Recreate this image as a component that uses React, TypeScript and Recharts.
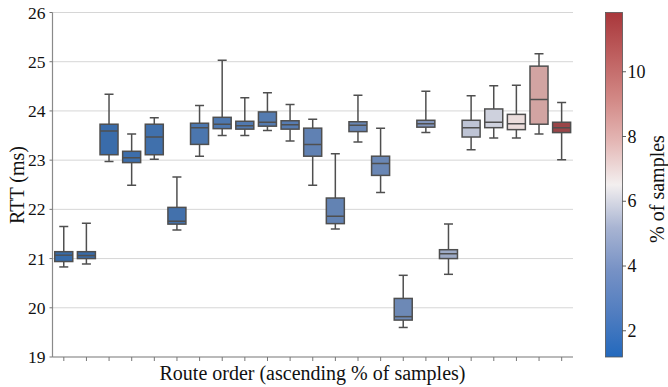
import { ComposedChart, Bar, XAxis, YAxis, CartesianGrid } from 'recharts'

// routes sorted by ascending share of samples
const routes = ['r01', 'r02', 'r03', 'r04', 'r05', 'r06', 'r07', 'r08', 'r09', 'r10', 'r11', 'r12',
  'r13', 'r14', 'r15', 'r16', 'r17', 'r18', 'r19', 'r20', 'r21', 'r22', 'r23']
const whiskerLow = [20.83, 20.89, 22.97, 22.49, 23.02, 21.58, 23.08, 23.5, 23.5, 23.6, 23.39, 22.49,
  21.6, 23.37, 22.34, 19.6, 23.56, 20.68, 23.21, 23.45, 23.45, 23.53, 23.01]
const q1 = [20.94, 21.0, 23.11, 22.95, 23.11, 21.7, 23.32, 23.64, 23.63, 23.69, 23.63, 23.08,
  21.71, 23.58, 22.69, 19.75, 23.67, 21.0, 23.47, 23.66, 23.62, 23.73, 23.56]
const median = [21.07, 21.06, 23.59, 23.05, 23.47, 21.76, 23.66, 23.73, 23.7, 23.77, 23.72, 23.32,
  21.86, 23.71, 22.93, 19.82, 23.74, 21.1, 23.66, 23.77, 23.74, 24.23, 23.66]
const q3 = [21.14, 21.14, 23.73, 23.18, 23.73, 22.04, 23.75, 23.87, 23.79, 23.98, 23.8, 23.65,
  22.23, 23.78, 23.08, 20.19, 23.81, 21.18, 23.81, 24.04, 23.93, 24.91, 23.77]
const whiskerHigh = [21.65, 21.72, 24.34, 23.53, 23.86, 22.66, 24.11, 25.03, 24.27, 24.37, 24.13, 23.83,
  23.13, 24.32, 23.65, 20.66, 24.4, 21.7, 24.31, 24.51, 24.52, 25.16, 24.17]
const pctSamples = [1.19, 1.22, 1.3, 1.4, 1.5, 1.6, 1.9, 2.0, 2.1, 2.2, 2.3, 2.6,
  2.7, 2.9, 3.0, 3.1, 3.9, 4.7, 5.5, 5.8, 7.0, 8.6, 11.83]
const rttTicks = [19, 20, 21, 22, 23, 24, 25, 26]
const pctTicks = [2, 4, 6, 8, 10]
const pctMin = 1.19
const pctMax = 11.83

// approx. seaborn "vlag"
const vlagStops: [number, number[]][] = [
  [0, [35, 105, 189]],
  [0.125, [80, 125, 192]],
  [0.25, [118, 145, 197]],
  [0.375, [168, 180, 210]],
  [0.5, [243, 239, 239]],
  [0.625, [228, 183, 181]],
  [0.75, [210, 136, 133]],
  [0.875, [190, 95, 95]],
  [1, [169, 55, 59]],
]

function vlag(t: number) {
  const x = Math.max(0, Math.min(1, t))
  for (let i = 1; i < vlagStops.length; i++) {
    const [t1, c1] = vlagStops[i]
    const [t0, c0] = vlagStops[i - 1]
    if (x <= t1) {
      const f = (x - t0) / (t1 - t0)
      return c0.map((v, k) => v + (c1[k] - v) * f)
    }
  }
  return vlagStops[vlagStops.length - 1][1]
}

function desaturate(rgb: number[], s: number) {
  const [r, g, b] = rgb.map(v => v / 255)
  const mx = Math.max(r, g, b)
  const mn = Math.min(r, g, b)
  const l = (mx + mn) / 2
  const out = [r, g, b].map(v => l + (v - l) * s)
  return `rgb(${out.map(v => Math.round(v * 255)).join(',')})`
}

const toCss = (c: number[]) => `rgb(${c.map(Math.round).join(',')})`

const data = routes.map((route, i) => ({
  route,
  range: [whiskerLow[i], whiskerHigh[i]],
  q1: q1[i],
  median: median[i],
  q3: q3[i],
  color: desaturate(vlag((pctSamples[i] - pctMin) / (pctMax - pctMin)), 0.75),
}))

const EDGE = '#4f4f4f'

function BoxShape(props: any) {
  const { x, y, width, height, payload } = props
  const top = Math.min(y, y + height)
  const bottom = Math.max(y, y + height)
  const [lo, hi] = payload.range
  const py = (v: number) => bottom - ((v - lo) / (hi - lo)) * (bottom - top)
  const cx = x + width / 2
  const cap = width / 4
  return (
    <g stroke={EDGE} strokeWidth={1.5}>
      <line x1={cx} x2={cx} y1={top} y2={py(payload.q3)} />
      <line x1={cx} x2={cx} y1={py(payload.q1)} y2={bottom} />
      <line x1={cx - cap} x2={cx + cap} y1={top} y2={top} />
      <line x1={cx - cap} x2={cx + cap} y1={bottom} y2={bottom} />
      <rect
        x={x}
        y={py(payload.q3)}
        width={width}
        height={py(payload.q1) - py(payload.q3)}
        fill={payload.color}
      />
      <line x1={x} x2={x + width} y1={py(payload.median)} y2={py(payload.median)} />
    </g>
  )
}

const FONT = "'Liberation Serif', 'Times New Roman', Times, serif"
const textStyle = { fontFamily: FONT }
const CB_X = 605.5
const CB_W = 17
const CB_TOP = 12.5
const CB_BOTTOM = 357
const cbY = (v: number) => CB_BOTTOM - ((v - pctMin) / (pctMax - pctMin)) * (CB_BOTTOM - CB_TOP)

function YTick(props: any) {
  const { x, y, payload } = props
  return (
    <text x={x - 2} y={y} textAnchor="end" dominantBaseline="central" fontSize={17.5} fill="#111" style={textStyle}>
      {payload.value}
    </text>
  )
}

export default function App() {
  return (
    <div style={{ position: 'absolute', left: 0, top: 0, width: 668, height: 387, fontFamily: FONT, background: '#fff' }}>
      <ComposedChart
        width={668}
        height={387}
        data={data}
        barCategoryGap="10%"
        margin={{ top: 12.5, right: 95, bottom: 0, left: 0 }}
      >
        <CartesianGrid vertical={false} stroke="#d6d6d6" strokeWidth={1} />
        <XAxis
          dataKey="route"
          height={30}
          tickFormatter={() => ''}
          tickSize={4}
          tickLine={{ stroke: '#777' }}
          axisLine={{ stroke: '#8a8a8a', strokeWidth: 1.2 }}
        />
        <YAxis
          type="number"
          domain={[19, 26]}
          ticks={rttTicks}
          allowDataOverflow
          width={52.5}
          tickSize={3}
          tickLine={{ stroke: '#777' }}
          axisLine={{ stroke: '#8a8a8a', strokeWidth: 1.2 }}
          tick={<YTick />}
        />
        <Bar dataKey="range" shape={BoxShape} isAnimationActive={false} />
      </ComposedChart>
      <svg width={668} height={387} style={{ position: 'absolute', left: 0, top: 0, pointerEvents: 'none' }}>
        <defs>
          <linearGradient id="cb" x1="0" y1="1" x2="0" y2="0">
            {vlagStops.map(([t, c]) => (
              <stop key={t} offset={t} stopColor={toCss(c)} />
            ))}
          </linearGradient>
        </defs>
        <text x={17} y={185} fontSize={20} fill="#111" textAnchor="middle" dominantBaseline="central" transform="rotate(-90 17 185)" style={textStyle}>
          RTT (ms)
        </text>
        <text x={312.5} y={380} fontSize={20} fill="#111" textAnchor="middle" style={textStyle}>
          Route order (ascending % of samples)
        </text>
        <rect x={CB_X} y={CB_TOP} width={CB_W} height={CB_BOTTOM - CB_TOP} fill="url(#cb)" stroke="#555" strokeWidth={0.8} />
        {pctTicks.map(t => (
          <g key={t}>
            <line x1={CB_X + CB_W} x2={CB_X + CB_W + 3.5} y1={cbY(t)} y2={cbY(t)} stroke="#333" strokeWidth={0.8} />
            <text x={CB_X + CB_W + 5} y={cbY(t)} fontSize={18} fill="#111" dominantBaseline="central" style={textStyle}>
              {t}
            </text>
          </g>
        ))}
        <text x={657} y={189} fontSize={20} fill="#111" textAnchor="middle" dominantBaseline="central" transform="rotate(-90 657 189)" style={textStyle}>
          % of samples
        </text>
      </svg>
    </div>
  )
}
